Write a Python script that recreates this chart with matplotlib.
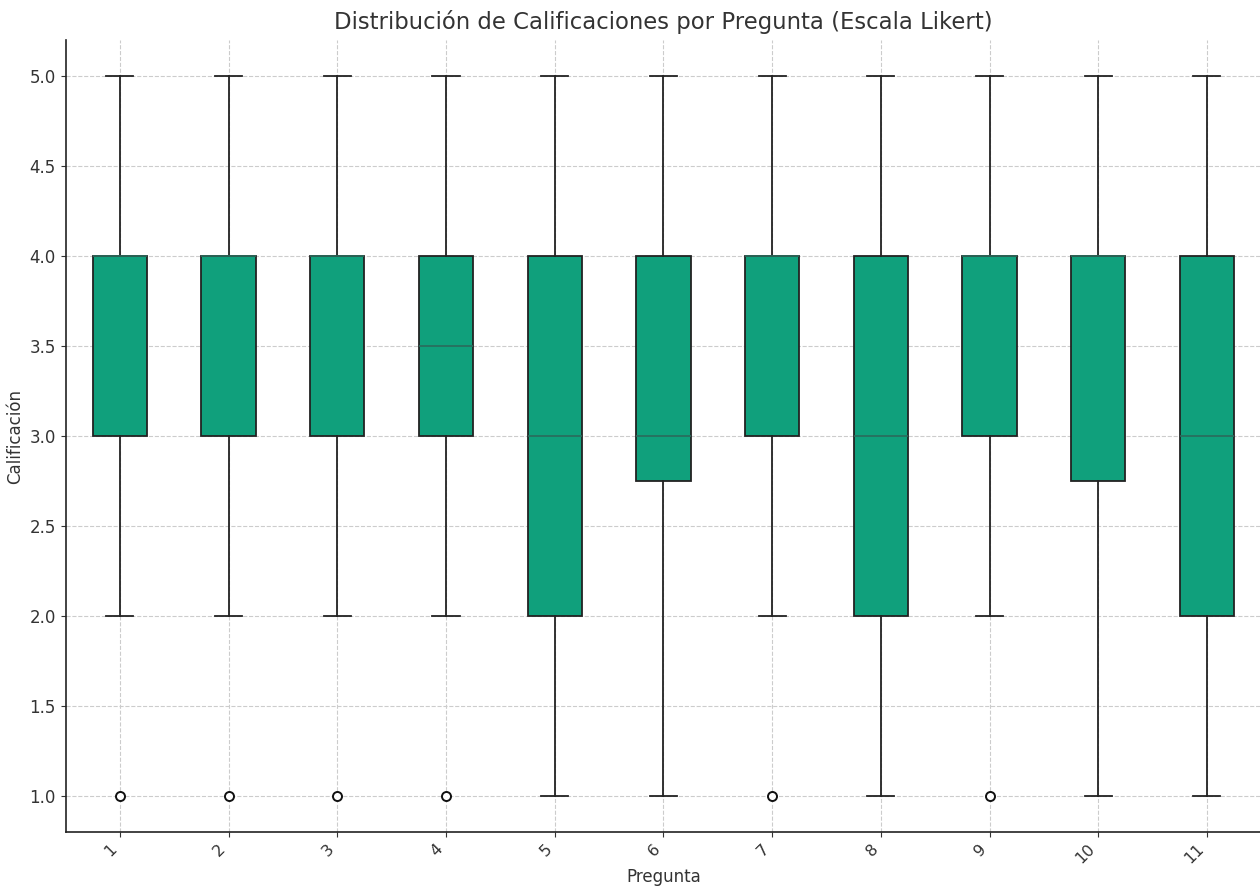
import matplotlib.pyplot as plt

# valores (escala Likert 1-5)
preguntas = ['1', '2', '3', '4', '5', '6', '7', '8', '9', '10', '11']
minimos = [2, 2, 2, 2, 1, 1, 2, 1, 2, 1, 1]
q1 = [3, 3, 3, 3, 2, 2.75, 3, 2, 3, 2.75, 2]
medianas = [4, 4, 4, 3.5, 3, 3, 4, 3, 4, 4, 3]
q3 = [4, 4, 4, 4, 4, 4, 4, 4, 4, 4, 4]
maximos = [5, 5, 5, 5, 5, 5, 5, 5, 5, 5, 5]
atipicos = [[1], [1], [1], [1], [], [], [1], [], [1], [], []]

stats = []
for i in range(len(preguntas)):
    stats.append({'label': preguntas[i], 'whislo': minimos[i], 'q1': q1[i],
                  'med': medianas[i], 'q3': q3[i], 'whishi': maximos[i],
                  'fliers': atipicos[i]})

fig = plt.figure(figsize=(12.6, 8.89), dpi=100)
ax = fig.add_axes([0.052, 0.064, 0.949, 0.891])

ax.bxp(stats, patch_artist=True, widths=0.5,
       boxprops=dict(facecolor='#10a07c', edgecolor='#222222', linewidth=1.3),
       medianprops=dict(color='#2b6b5c', linewidth=1.2),
       whiskerprops=dict(color='#222222', linewidth=1.3),
       capprops=dict(color='#222222', linewidth=1.3),
       flierprops=dict(marker='o', markerfacecolor='white', markeredgecolor='#111111',
                       markersize=6.5, markeredgewidth=1.4))

ax.set_ylim(0.8, 5.2)
ax.set_xlim(0.5, 11.5)
ax.grid(True, linestyle='--', color='#cccccc', linewidth=0.8)
ax.set_axisbelow(True)
for s in ['top', 'right']:
    ax.spines[s].set_visible(False)
for s in ['left', 'bottom']:
    ax.spines[s].set_color('#222222')
    ax.spines[s].set_linewidth(1.2)

ax.tick_params(axis='x', labelsize=11.5, colors='#333333', pad=3)
ax.tick_params(axis='y', labelsize=12, colors='#333333')
plt.setp(ax.get_xticklabels(), rotation=45, ha='right', rotation_mode='default')
ax.set_title('Distribución de Calificaciones por Pregunta (Escala Likert)',
             fontsize=16.4, color='#333333', pad=8)
ax.set_xlabel('Pregunta', fontsize=12, color='#333333', labelpad=1)
ax.set_ylabel('Calificación', fontsize=12, color='#333333')

plt.savefig('out.png', dpi=100)
